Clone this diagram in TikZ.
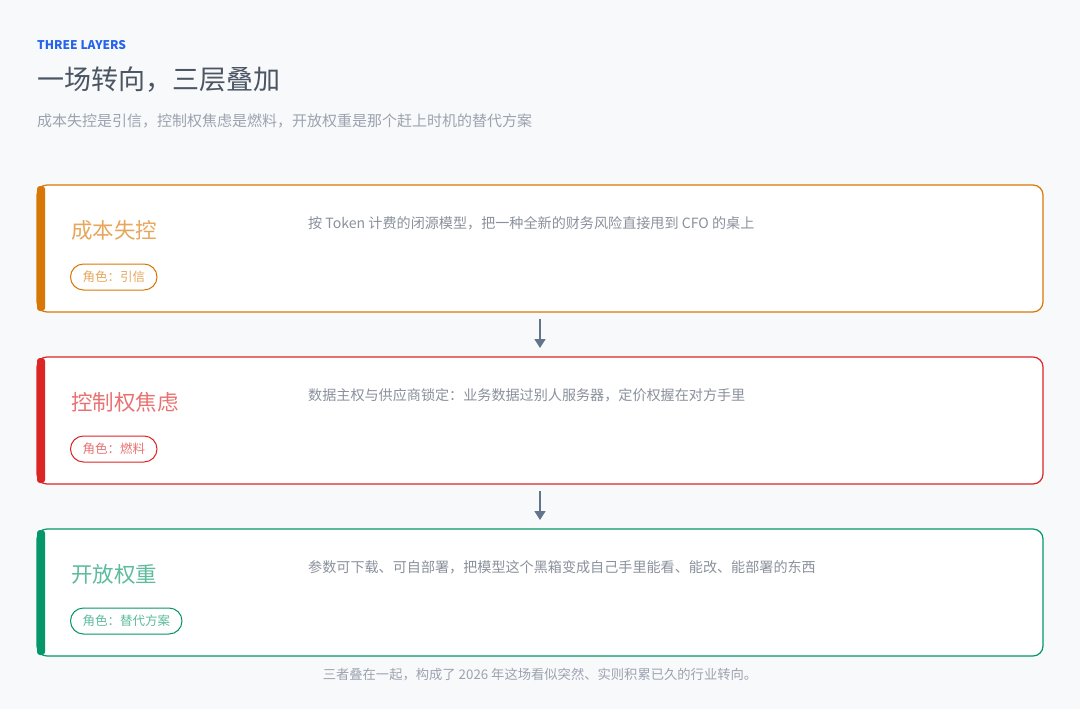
\documentclass[tikz,border=0pt]{standalone}
\usepackage{fontspec}
\setmainfont{Noto Sans CJK SC}
\usetikzlibrary{arrows.meta}
\definecolor{bg}{HTML}{F8F9FB}
\definecolor{org}{HTML}{D97706}
\definecolor{rd}{HTML}{DC2626}
\definecolor{grn}{HTML}{059669}
\definecolor{blu}{HTML}{2563EB}
\definecolor{ink}{HTML}{4B5563}
\definecolor{mute}{HTML}{9CA3AF}
\definecolor{desc}{HTML}{8A919C}
\definecolor{arr}{HTML}{64748B}
\tikzset{
  card/.style={draw=#1, line width=1.2pt, fill=white, rounded corners=10pt},
  ttl/.style={anchor=west, inner sep=0pt, text=#1!65, font=\fontsize{21.5}{24}\selectfont},
  pill/.style={draw=#1, line width=1pt, rounded corners=13pt, text=#1!65, font=\fontsize{12.5}{14}\selectfont, minimum height=26pt, inner xsep=12pt, anchor=west},
  dsc/.style={anchor=west, inner sep=0pt, text=desc, font=\fontsize{14.1}{16}\selectfont},
  flow/.style={draw=arr, line width=1.6pt, -{Triangle[length=9pt,width=11pt]}}
}
\begin{document}
\begin{tikzpicture}[x=1pt,y=-1pt]
\fill[bg] (0,0) rectangle (1080,709);
\useasboundingbox (0,0) rectangle (1080,709);
\node[anchor=west, inner sep=0pt, text=blu, font=\bfseries\fontsize{12}{14}\selectfont] (k) at (37,45) {THREE LAYERS};
\node[anchor=west, inner sep=0pt, text=ink, font=\fontsize{27}{30}\selectfont] (h) at (37,80) {一场转向，三层叠加};
\node[anchor=west, inner sep=0pt, text=mute, font=\fontsize{15}{18}\selectfont] (s) at (37,121) {成本失控是引信，控制权焦虑是燃料，开放权重是那个赶上时机的替代方案};
\foreach \n/\y/\c/\t/\p/\d in {a/185/org/成本失控/角色：引信/按 Token 计费的闭源模型，把一种全新的财务风险直接甩到 CFO 的桌上,
  b/357/rd/控制权焦虑/角色：燃料/数据主权与供应商锁定：业务数据过别人服务器，定价权握在对方手里,
  c/529/grn/开放权重/角色：替代方案/参数可下载、可自部署，把模型这个黑箱变成自己手里能看、能改、能部署的东西}{
  \draw[card=\c] (37,\y) rectangle (1043,\y+127);
  \fill[\c, rounded corners=3pt] (37,\y+1) rectangle (45,\y+126);
  \node[ttl=\c] (\n t) at (71,\y+45) {\t};
  \node[pill=\c] (\n p) at (70,\y+92) {\p};
  \node[dsc] (\n d) at (308,\y+38) {\d};
}
\coordinate (a1) at (540,319); \coordinate (a2) at (540,348);
\coordinate (b1) at (540,491); \coordinate (b2) at (540,520);
\draw[flow] (a1) -- (a2);
\draw[flow] (b1) -- (b2);
\node[text=mute, font=\fontsize{13.3}{15}\selectfont] (f) at (540,675) {三者叠在一起，构成了 2026 年这场看似突然、实则积累已久的行业转向。};
\end{tikzpicture}
\end{document}
